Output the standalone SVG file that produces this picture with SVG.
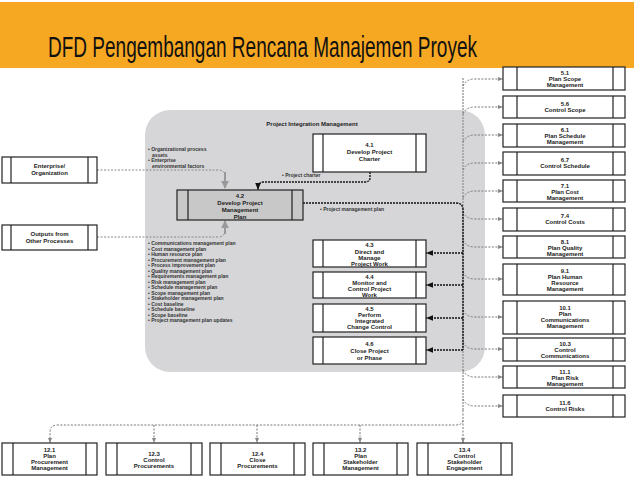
<svg xmlns="http://www.w3.org/2000/svg" width="638" height="479" viewBox="0 0 638 479">
<style>
.b{fill:#fff;stroke:#222;stroke-width:1.2}
.g{fill:#c8c8c8;stroke:#222;stroke-width:1.2}
.il{stroke:#222;stroke-width:1.2}
.t{font-family:"Liberation Sans",Arial,sans-serif;font-size:6px;font-weight:bold;fill:#222;text-anchor:middle}
.s{font-family:"Liberation Sans",Arial,sans-serif;font-size:5px;font-weight:bold;fill:#333}
.c{fill:none;stroke:#777;stroke-width:1;stroke-dasharray:2,1.5}
.k{fill:none;stroke:#111;stroke-width:1.4;stroke-dasharray:2,1}
.ga{fill:none;stroke:#999;stroke-width:2}
</style>
<defs>
<marker id="a" viewBox="0 0 10 10" refX="10" refY="5" markerWidth="6" markerHeight="5" orient="auto"><path d="M0,1L10,5L0,9z" fill="#888"/></marker>
<marker id="ak" viewBox="0 0 10 10" refX="10" refY="5" markerWidth="6" markerHeight="5" orient="auto"><path d="M0,1L10,5L0,9z" fill="#111"/></marker>
<marker id="ag" viewBox="0 0 10 10" refX="9" refY="5" markerWidth="4" markerHeight="4" orient="auto"><path d="M0,0L10,5L0,10z" fill="#999"/></marker>
</defs>
<rect width="638" height="479" fill="#fff"/>
<rect x="0" y="2" width="634" height="66" fill="#f7a823"/>
<text x="48" y="57" font-family="Liberation Sans,Arial,sans-serif" font-size="30" fill="#111" textLength="429" lengthAdjust="spacingAndGlyphs">DFD Pengembangan Rencana Manajemen Proyek</text>
<rect x="145" y="110" width="340" height="262" rx="25" fill="#d6d6d8"/>
<text x="312" y="126" class="t" font-size="6.5">Project Integration Management</text>

<g id="connectors">
<path class="k" d="M463,78V410" style="stroke:#999"/>
<path class="c" d="M463,86Q466,79 475,79H503" marker-end="url(#a)"/>
<path class="c" d="M463,114Q466,107 475,107H503" marker-end="url(#a)"/>
<path class="c" d="M463,142Q466,135 475,135H503" marker-end="url(#a)"/>
<path class="c" d="M463,170Q466,163 475,163H503" marker-end="url(#a)"/>
<path class="c" d="M463,198Q466,191 475,191H503" marker-end="url(#a)"/>
<path class="c" d="M463,212Q466,219 475,219H503" marker-end="url(#a)"/>
<path class="c" d="M463,240Q466,247 475,247H503" marker-end="url(#a)"/>
<path class="c" d="M463,272Q466,279 475,279H503" marker-end="url(#a)"/>
<path class="c" d="M463,310Q466,317 475,317H503" marker-end="url(#a)"/>
<path class="c" d="M463,342Q466,349 475,349H503" marker-end="url(#a)"/>
<path class="c" d="M463,370Q466,377 475,377H503" marker-end="url(#a)"/>
<path class="c" d="M463,399Q466,406 475,406H503" marker-end="url(#a)"/>
<path class="c" d="M463,410V420Q463,425 455,425H58Q50,425 50,432V443" marker-end="url(#a)"/>
<path class="c" d="M154,425V443" marker-end="url(#a)"/>
<path class="c" d="M257,425V443" marker-end="url(#a)"/>
<path class="c" d="M360,425V443" marker-end="url(#a)"/>
<path class="c" d="M463,420V443" marker-end="url(#a)"/>
<path class="c" d="M97,170H218Q225,170 225,176V188" style="stroke:#888"/>
<path class="ga" d="M225,172V188" marker-end="url(#ag)"/>
<path class="c" d="M97,237H218Q225,237 225,230V222" style="stroke:#888"/>
<path class="ga" d="M225,234V221" marker-end="url(#ag)"/>
<path class="k" d="M370,172V178Q370,182 364,182H264Q258,182 258,188V190" marker-end="url(#ak)"/>
<path class="k" d="M303,203H456Q463,203 463,210V350"/>
<path class="k" d="M463,253H426" marker-end="url(#ak)"/>
<path class="k" d="M463,285H426" marker-end="url(#ak)"/>
<path class="k" d="M463,318H426" marker-end="url(#ak)"/>
<path class="k" d="M463,350H426" marker-end="url(#ak)"/>
</g>

<g id="labels">
<text class="s" x="148" y="151">• Organizational process</text>
<text class="s" x="152" y="156.5">assets</text>
<text class="s" x="148" y="162">• Enterprise</text>
<text class="s" x="152" y="167.5">environmental factors</text>
<text class="s" x="282" y="177">• Project charter</text>
<text class="s" x="320" y="211">• Project management plan</text>
<text class="s" x="148" y="245">• Communications management plan</text>
<text class="s" x="148" y="250.5">• Cost management plan</text>
<text class="s" x="148" y="256">• Human resource plan</text>
<text class="s" x="148" y="261.5">• Procurement management plan</text>
<text class="s" x="148" y="267">• Process improvement plan</text>
<text class="s" x="148" y="272.5">• Quality management plan</text>
<text class="s" x="148" y="278">• Requirements management plan</text>
<text class="s" x="148" y="283.5">• Risk management plan</text>
<text class="s" x="148" y="289">• Schedule management plan</text>
<text class="s" x="148" y="294.5">• Scope management plan</text>
<text class="s" x="148" y="300">• Stakeholder management plan</text>
<text class="s" x="148" y="305.5">• Cost baseline</text>
<text class="s" x="148" y="311">• Schedule baseline</text>
<text class="s" x="148" y="316.5">• Scope baseline</text>
<text class="s" x="148" y="322">• Project management plan updates</text>
</g>

<g id="n41"><rect class="b" x="313" y="134" width="113" height="38"/><path class="il" d="M323,134V172M416,134V172"/><text class="t" x="369.5" y="147">4.1</text><text class="t" x="369.5" y="154">Develop Project</text><text class="t" x="369.5" y="161">Charter</text></g>
<g id="n42"><rect class="g" x="177" y="190" width="126" height="30"/><path class="il" d="M188,190V220M292,190V220"/><text class="t" x="240" y="198">4.2</text><text class="t" x="240" y="205">Develop Project</text><text class="t" x="240" y="212">Management</text><text class="t" x="240" y="219">Plan</text></g>
<g id="n43"><rect class="b" x="313" y="240" width="113" height="27"/><path class="il" d="M323,240V267M416,240V267"/><text class="t" x="369.5" y="247">4.3</text><text class="t" x="369.5" y="254">Direct and</text><text class="t" x="369.5" y="260">Manage</text><text class="t" x="369.5" y="266">Project Work</text></g>
<g id="n44"><rect class="b" x="313" y="272" width="113" height="26"/><path class="il" d="M323,272V298M416,272V298"/><text class="t" x="369.5" y="279">4.4</text><text class="t" x="369.5" y="285">Monitor and</text><text class="t" x="369.5" y="291">Control Project</text><text class="t" x="369.5" y="297">Work</text></g>
<g id="n45"><rect class="b" x="313" y="304" width="113" height="28"/><path class="il" d="M323,304V332M416,304V332"/><text class="t" x="369.5" y="311">4.5</text><text class="t" x="369.5" y="317">Perform</text><text class="t" x="369.5" y="323">Integrated</text><text class="t" x="369.5" y="329">Change Control</text></g>
<g id="n46"><rect class="b" x="313" y="337" width="113" height="27"/><path class="il" d="M323,337V364M416,337V364"/><text class="t" x="369.5" y="346">4.6</text><text class="t" x="369.5" y="353">Close Project</text><text class="t" x="369.5" y="360">or Phase</text></g>

<g id="ent"><rect class="b" x="2" y="157" width="95" height="26"/><path class="il" d="M11,157V183M88,157V183"/><text class="t" x="49.5" y="168">Enterprise/</text><text class="t" x="49.5" y="175">Organization</text></g>
<g id="out"><rect class="b" x="2" y="225" width="95" height="25"/><path class="il" d="M11,225V250M88,225V250"/><text class="t" x="49.5" y="236">Outputs from</text><text class="t" x="49.5" y="243">Other Processes</text></g>

<g id="r51"><rect class="b" x="503" y="67" width="122" height="23"/><path class="il" d="M517,67V90M613,67V90"/><text class="t" x="565" y="75">5.1</text><text class="t" x="565" y="81">Plan Scope</text><text class="t" x="565" y="87">Management</text></g>
<g id="r56"><rect class="b" x="503" y="96" width="122" height="22"/><path class="il" d="M517,96V118M613,96V118"/><text class="t" x="565" y="106">5.6</text><text class="t" x="565" y="112">Control Scope</text></g>
<g id="r61"><rect class="b" x="503" y="124" width="122" height="23"/><path class="il" d="M517,124V147M613,124V147"/><text class="t" x="565" y="132">6.1</text><text class="t" x="565" y="138">Plan Schedule</text><text class="t" x="565" y="144">Management</text></g>
<g id="r67"><rect class="b" x="503" y="152" width="122" height="23"/><path class="il" d="M517,152V175M613,152V175"/><text class="t" x="565" y="162">6.7</text><text class="t" x="565" y="168">Control Schedule</text></g>
<g id="r71"><rect class="b" x="503" y="180" width="122" height="22"/><path class="il" d="M517,180V202M613,180V202"/><text class="t" x="565" y="188">7.1</text><text class="t" x="565" y="194">Plan Cost</text><text class="t" x="565" y="200">Management</text></g>
<g id="r74"><rect class="b" x="503" y="208" width="122" height="23"/><path class="il" d="M517,208V231M613,208V231"/><text class="t" x="565" y="218">7.4</text><text class="t" x="565" y="224">Control Costs</text></g>
<g id="r81"><rect class="b" x="503" y="236" width="122" height="22"/><path class="il" d="M517,236V258M613,236V258"/><text class="t" x="565" y="244">8.1</text><text class="t" x="565" y="250">Plan Quality</text><text class="t" x="565" y="256">Management</text></g>
<g id="r91"><rect class="b" x="503" y="264" width="122" height="31"/><path class="il" d="M517,264V295M613,264V295"/><text class="t" x="565" y="273">9.1</text><text class="t" x="565" y="279">Plan Human</text><text class="t" x="565" y="285">Resource</text><text class="t" x="565" y="291">Management</text></g>
<g id="r101"><rect class="b" x="503" y="301" width="122" height="33"/><path class="il" d="M517,301V334M613,301V334"/><text class="t" x="565" y="310">10.1</text><text class="t" x="565" y="316">Plan</text><text class="t" x="565" y="322">Communications</text><text class="t" x="565" y="328">Management</text></g>
<g id="r103"><rect class="b" x="503" y="338" width="122" height="23"/><path class="il" d="M517,338V361M613,338V361"/><text class="t" x="565" y="346">10.3</text><text class="t" x="565" y="352">Control</text><text class="t" x="565" y="358">Communications</text></g>
<g id="r111"><rect class="b" x="503" y="366" width="122" height="22"/><path class="il" d="M517,366V388M613,366V388"/><text class="t" x="565" y="374">11.1</text><text class="t" x="565" y="380">Plan Risk</text><text class="t" x="565" y="386">Management</text></g>
<g id="r116"><rect class="b" x="503" y="395" width="122" height="22"/><path class="il" d="M517,395V417M613,395V417"/><text class="t" x="565" y="405">11.6</text><text class="t" x="565" y="411">Control Risks</text></g>

<g id="b121"><rect class="b" x="2" y="443" width="95" height="32"/><path class="il" d="M13,443V475M86,443V475"/><text class="t" x="49.5" y="452">12.1</text><text class="t" x="49.5" y="458">Plan</text><text class="t" x="49.5" y="464">Procurement</text><text class="t" x="49.5" y="470">Management</text></g>
<g id="b123"><rect class="b" x="106" y="443" width="96" height="32"/><path class="il" d="M117,443V475M191,443V475"/><text class="t" x="154" y="456">12.3</text><text class="t" x="154" y="462">Control</text><text class="t" x="154" y="468">Procurements</text></g>
<g id="b124"><rect class="b" x="210" y="443" width="95" height="32"/><path class="il" d="M221,443V475M294,443V475"/><text class="t" x="257.5" y="456">12.4</text><text class="t" x="257.5" y="462">Close</text><text class="t" x="257.5" y="468">Procurements</text></g>
<g id="b132"><rect class="b" x="313" y="443" width="95" height="32"/><path class="il" d="M324,443V475M397,443V475"/><text class="t" x="360.5" y="452">13.2</text><text class="t" x="360.5" y="458">Plan</text><text class="t" x="360.5" y="464">Stakeholder</text><text class="t" x="360.5" y="470">Management</text></g>
<g id="b134"><rect class="b" x="417" y="443" width="95" height="32"/><path class="il" d="M428,443V475M501,443V475"/><text class="t" x="464.5" y="452">13.4</text><text class="t" x="464.5" y="458">Control</text><text class="t" x="464.5" y="464">Stakeholder</text><text class="t" x="464.5" y="470">Engagement</text></g>
</svg>
